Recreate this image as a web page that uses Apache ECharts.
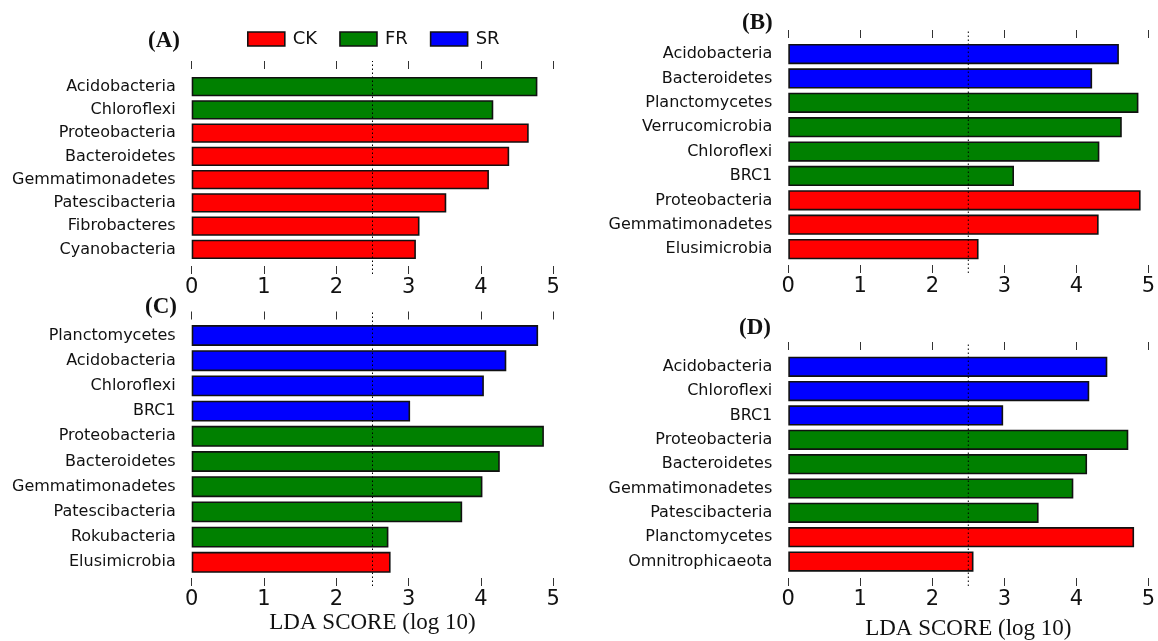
<!DOCTYPE html>
<html><head><meta charset="utf-8">
<script src="https://cdn.jsdelivr.net/npm/echarts@6/dist/echarts.min.js"></script>
<style>html,body{margin:0;padding:0;background:#fff}#c{width:1158px;height:641px}</style>
</head><body><div id="c"></div>
<script>
// ---------- DATA ----------
const groups = ['CK', 'FR', 'SR'];
const xTicks = [0, 1, 2, 3, 4, 5];
const threshold = 2.5;
const axisName = 'LDA SCORE (log 10)';
const panelTitles = ['(A)', '(B)', '(C)', '(D)'];

const catsA = ['Acidobacteria','Chloroflexi','Proteobacteria','Bacteroidetes','Gemmatimonadetes','Patescibacteria','Fibrobacteres','Cyanobacteria'];
const valsA = [4.78, 4.17, 4.66, 4.39, 4.11, 3.52, 3.15, 3.10];
const grpA  = ['FR','FR','CK','CK','CK','CK','CK','CK'];

const catsB = ['Acidobacteria','Bacteroidetes','Planctomycetes','Verrucomicrobia','Chloroflexi','BRC1','Proteobacteria','Gemmatimonadetes','Elusimicrobia'];
const valsB = [4.57, 4.20, 4.84, 4.61, 4.30, 3.12, 4.87, 4.29, 2.63];
const grpB  = ['SR','SR','FR','FR','FR','FR','CK','CK','CK'];

const catsC = ['Planctomycetes','Acidobacteria','Chloroflexi','BRC1','Proteobacteria','Bacteroidetes','Gemmatimonadetes','Patescibacteria','Rokubacteria','Elusimicrobia'];
const valsC = [4.79, 4.35, 4.04, 3.02, 4.87, 4.26, 4.02, 3.74, 2.72, 2.75];
const grpC  = ['SR','SR','SR','SR','FR','FR','FR','FR','FR','CK'];

const catsD = ['Acidobacteria','Chloroflexi','BRC1','Proteobacteria','Bacteroidetes','Gemmatimonadetes','Patescibacteria','Planctomycetes','Omnitrophicaeota'];
const valsD = [4.41, 4.16, 2.97, 4.70, 4.13, 3.94, 3.46, 4.78, 2.56];
const grpD  = ['SR','SR','SR','FR','FR','FR','FR','CK','CK'];

// ---------- STYLE / LAYOUT ----------
const colors = { CK: '#ff0000', FR: '#008000', SR: '#0000ff' };
const panels = [
  { cats: catsA, vals: valsA, grp: grpA, left: 191.7, width: 361.6, barTop: 75,   barH: 186,   ovTop: 61,  ovBot: 274, tl: 148, tt: 30,  name: false, nameGap: 0 },
  { cats: catsB, vals: valsB, grp: grpB, left: 788.3, width: 361.7, barTop: 41.9, barH: 219.4, ovTop: 30,  ovBot: 273, tl: 742, tt: 12,  name: false, nameGap: 0 },
  { cats: catsC, vals: valsC, grp: grpC, left: 191.7, width: 361.6, barTop: 322.9,barH: 252,   ovTop: 311.5, ovBot: 586, tl: 145, tt: 296, name: true, nameGap: 25 },
  { cats: catsD, vals: valsD, grp: grpD, left: 788.3, width: 361.7, barTop: 354.6,barH: 219.1, ovTop: 342, ovBot: 586, tl: 739, tt: 317, name: true, nameGap: 31 }
];
const H = 641, W = 1158;

const grid = [], xAxis = [], yAxis = [], series = [], title = [];
panels.forEach((p, i) => {
  const right = W - p.left - p.width;
  grid.push({ left: p.left, right: right, top: p.barTop, height: p.barH });
  grid.push({ left: p.left, right: right, top: p.ovTop, bottom: H - p.ovBot });
  const gB = 2 * i, gO = 2 * i + 1;
  const xB = xAxis.length;
  xAxis.push({ gridIndex: gB, type: 'value', min: xTicks[0], max: xTicks[xTicks.length - 1], interval: 1, show: false });
  const xO = xAxis.length;
  xAxis.push({
    gridIndex: gO, type: 'value', position: 'bottom', min: xTicks[0], max: xTicks[xTicks.length - 1], interval: 1,
    axisLine: { show: false }, splitLine: { show: false },
    axisTick: { show: true, inside: true, length: 8, lineStyle: { color: '#333', width: 1 } },
    axisLabel: { show: true, margin: 3, fontFamily: 'DejaVu Sans', fontSize: 21, color: '#111' },
    name: p.name ? axisName : '', nameLocation: 'middle', nameGap: p.nameGap,
    nameTextStyle: { fontFamily: 'Liberation Serif', fontSize: 23, color: '#111' }
  });
  xAxis.push({
    gridIndex: gO, type: 'value', position: 'top', min: xTicks[0], max: xTicks[xTicks.length - 1], interval: 1,
    axisLine: { show: false }, splitLine: { show: false }, axisLabel: { show: false },
    axisTick: { show: true, inside: true, length: 8, lineStyle: { color: '#333', width: 1 } }
  });
  const yB = yAxis.length;
  yAxis.push({
    gridIndex: gB, type: 'category', data: p.cats, inverse: true,
    axisLine: { show: false }, axisTick: { show: false }, splitLine: { show: false },
    axisLabel: { margin: 16, fontFamily: 'DejaVu Sans', fontSize: 16, color: '#111' }
  });
  const yO = yAxis.length;
  yAxis.push({ gridIndex: gO, type: 'value', min: 0, max: 1, show: false });

  groups.forEach(g => {
    series.push({
      type: 'bar', name: g, xAxisIndex: xB, yAxisIndex: yB, stack: 'p' + i,
      barCategoryGap: '17%',
      data: p.vals.map((v, k) => p.grp[k] === g ? v : '-'),
      itemStyle: { color: colors[g], borderColor: '#111', borderWidth: 1.6 },
      silent: true, animation: false
    });
  });
  series.push({
    type: 'line', xAxisIndex: xO, yAxisIndex: yO, z: 10, symbol: 'none', silent: true, animation: false,
    data: [[threshold, 0], [threshold, 1]],
    lineStyle: { type: [1.5, 2.5], color: '#000', width: 1 }
  });
  title.push({ text: panelTitles[i], left: p.tl, top: p.tt, padding: 0,
    textStyle: { fontFamily: 'Liberation Serif', fontWeight: 'bold', fontSize: 23, color: '#111' } });
});

const chart = echarts.init(document.getElementById('c'), null, { renderer: 'canvas' });
chart.setOption({
  backgroundColor: '#fff',
  animation: false,
  title: title,
  legend: {
    data: groups.map(g => ({ name: g, icon: 'rect' })), left: 247, top: 30, padding: 0,
    itemWidth: 37, itemHeight: 14, itemGap: 22, selectedMode: false,
    itemStyle: { borderColor: '#111', borderWidth: 1.6 },
    textStyle: { fontFamily: 'DejaVu Sans', fontSize: 18, color: '#111', padding: [0, 0, 0, 3] }
  },
  grid: grid, xAxis: xAxis, yAxis: yAxis, series: series
});
</script></body></html>
